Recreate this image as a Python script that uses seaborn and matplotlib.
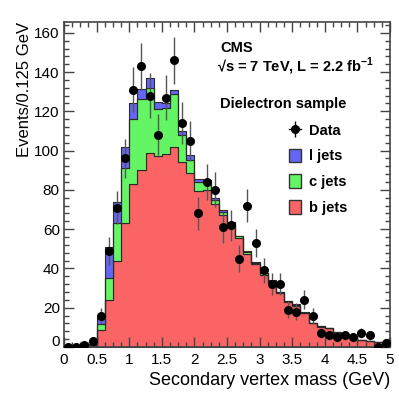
import numpy as np
import pandas as pd
import matplotlib
matplotlib.use("Agg")
import matplotlib.pyplot as plt
import seaborn as sns
from matplotlib.lines import Line2D
from matplotlib.patches import Patch
from matplotlib.ticker import MultipleLocator
from matplotlib.transforms import ScaledTranslation

# ---------------- data ----------------
bin_width = 0.125
n_bins = 40
b_jets = [0, 0, 0, 0.5, 8.6, 24, 43.6, 63, 83, 90, 99, 97.5, 98.5, 102, 94, 88.7,
          79.5, 80.2, 72.7, 67, 61.5, 55.6, 47.3, 42.2, 36.8, 33, 27.5, 22.8, 21, 17.2,
          12.1, 10.4, 9.5, 7.3, 6.2, 5.4, 3.5, 2.9, 2.3, 2.4]
c_jets = [0, 0, 0, 0.3, 3.1, 11, 19.4, 28, 33, 36.5, 33, 23.5, 23, 26.7, 14, 6.7,
          4.5, 3.4, 2.3, 1.8, 1.4, 0.7, 1.2, 0.8, 0.7, 0.7, 0.3, 0.4, 0.4, 0.2,
          0.2, 0.2, 0.2, 0.1, 0.1, 0.1, 0.05, 0.05, 0.05, 0.05]
l_jets = [0, 0, 0, 0.7, 3.8, 16, 11, 11, 8.3, 5, 5, 3.8, 2.8, 2.3, 2, 2.6,
          1.6, 1.4, 1, 1.2, 0.8, 0.3, 0.5, 0.4, 0.3, 0.3, 0.2, 0.2, 0.3, 0.2,
          0.1, 0.1, 0.1, 0.1, 0.1, 0.1, 0.05, 0.05, 0.05, 0.05]
data_counts = [0, 0, 1, 3, 16, 49, 71, 96, 131, 143, 128, 108, 127, 146, 114, 105,
               68, 84, 80, 61, 62, 45, 72, 53, 39, 32, 32, 19, 18, 24,
               16, 7, 6, 5, 6, 5, 7, 6, 0, 2]
data_err = [0, 0, 1, 1.7, 4, 7, 8.4, 9.8, 11.4, 12, 11.3, 10.4, 11.3, 12.1, 10.7, 10.2,
            8.2, 9.2, 8.9, 7.8, 7.9, 6.7, 8.5, 7.3, 6.2, 5.7, 5.7, 4.4, 4.2, 4.9,
            4, 2.6, 2.4, 2.2, 2.4, 2.2, 2.6, 2.4, 0, 1.4]
flavours = ["l jets", "c jets", "b jets"]
colours = {"l jets": "#6464f5", "c jets": "#64f564", "b jets": "#fa6464"}

edges = [i * bin_width for i in range(n_bins + 1)]
centers = [(i + 0.5) * bin_width for i in range(n_bins)]

df = pd.DataFrame({
    "mass": centers * 3,
    "events": l_jets + c_jets + b_jets,
    "flavour": [f for f in flavours for _ in range(n_bins)],
})

# ---------------- figure ----------------
plt.rcParams["font.family"] = ["Liberation Sans", "DejaVu Sans"]
plt.rcParams["mathtext.fontset"] = "custom"
plt.rcParams["mathtext.rm"] = "Liberation Sans"
plt.rcParams["mathtext.bf"] = "Liberation Sans:bold"

W = H = 399
fig = plt.figure(figsize=(W / 100, H / 100), dpi=100)
ax = fig.add_axes([64 / W, (H - 347) / H, 326 / W, 325 / H])

sns.histplot(data=df, x="mass", weights="events", hue="flavour",
             hue_order=flavours, palette=colours, bins=edges,
             multiple="stack", element="step", fill=True, alpha=1,
             edgecolor="#2a2a2a", linewidth=0.8, legend=False, ax=ax)

ax.errorbar(centers, data_counts, yerr=data_err, fmt="o", color="black",
            ms=5.5, ecolor="#555555", elinewidth=1, capsize=0, zorder=5)

ax.set_xlim(0, 5)
ax.set_ylim(0, 165.5)
ax.xaxis.set_minor_locator(MultipleLocator(0.125))
ax.yaxis.set_major_locator(MultipleLocator(20))
ax.yaxis.set_minor_locator(MultipleLocator(4))
ax.set_xticks(np.arange(0, 5.01, 0.5))
ax.set_xticklabels(["0", "0.5", "1", "1.5", "2", "2.5", "3", "3.5", "4", "4.5", "5"])
ax.set_yticks(np.arange(0, 161, 20))
ax.set_yticklabels([str(v) for v in range(0, 161, 20)])
ax.tick_params(which="both", direction="in", top=True, right=True,
               labelsize=11, color="#444444", width=1)
ax.tick_params(which="major", length=7)
ax.tick_params(which="minor", length=3.5)
ax.tick_params(axis="x", pad=4)
ax.tick_params(axis="y", pad=3)
for s in ax.spines.values():
    s.set_color("#444444")
    s.set_linewidth(1.2)

# raise the y-axis "0" label a little, as in the reference
lab0 = ax.get_yticklabels()[0]
lab0.set_transform(lab0.get_transform() + ScaledTranslation(0, 6 / 100, fig.dpi_scale_trans))

ax.set_xlabel("Secondary vertex mass (GeV)", fontsize=13, loc="right", labelpad=4)
ax.set_ylabel("Events/0.125 GeV", fontsize=12, loc="top", labelpad=2)

# annotations
def ftext(xp, yp, s, **kw):
    fig.text(xp / W, 1 - yp / H, s, va="center", ha="left", **kw)

ftext(220, 48, "CMS", fontsize=10.5, fontweight="bold")
ftext(217, 66, r"√s = 7 TeV, L = 2.2 fb$^{\mathbf{-1}}$", fontsize=10.5, fontweight="bold")
ftext(220, 104, "Dielectron sample", fontsize=10.5, fontweight="bold")

data_handle = (Line2D([], [], color="black", lw=1),
               Line2D([], [], color="black", marker="|", ms=12, ls="none"),
               Line2D([], [], color="black", marker="o", ms=5.5, ls="none"))
handles = [data_handle] + [Patch(facecolor=colours[f], edgecolor="#333333", lw=1)
                           for f in flavours]
labels = ["Data"] + flavours
leg = ax.legend(handles, labels, loc="upper left",
                bbox_to_anchor=((289 - 64) / 326, (347 - 123) / 325),
                frameon=False, prop={"weight": "bold", "size": 10.5},
                handlelength=0.8, handleheight=1.05, handletextpad=0.6,
                labelspacing=0.75, borderaxespad=0, borderpad=0)

fig.savefig("out.png", dpi=100)
